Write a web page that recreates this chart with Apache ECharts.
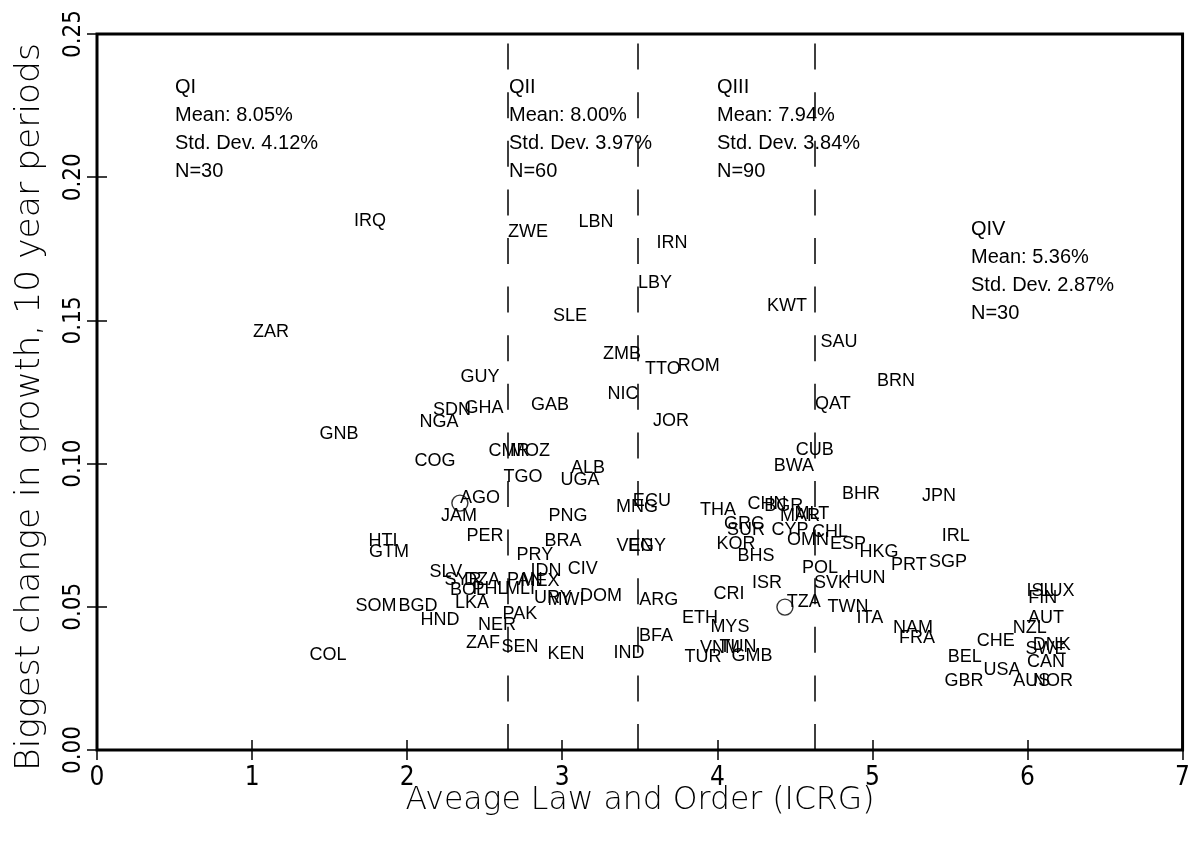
<!DOCTYPE html>
<html><head><meta charset="utf-8">
<script src="https://cdn.jsdelivr.net/npm/echarts@6/dist/echarts.min.js"></script>
<style>html,body{margin:0;padding:0;background:#fff}#c{width:1193px;height:848px}</style>
</head><body><div id="c"></div>
<script>
const codes = ['IRQ','ZAR','GUY','SDN','GHA','NGA','GNB','COG','CMR','MOZ','TGO','ALB','UGA','AGO','JAM','PER','HTI','GTM','SLV','LKA',
 'HND','SOM','BGD','NER','ZAF','PAK','SEN','KEN','COL','IND','BFA','ARG','PRY','BRA','PNG','MNG','ECU','VEN','EGY','NIC',
 'JOR','GAB','ZMB','TTO','ROM','SLE','LBY','IRN','LBN','ZWE','KWT','SAU','BRN','QAT','CUB','BWA','BHR','JPN','THA','CHN',
 'BGR','MAR','MLT','GRC','SUR','KOR','BHS','CYP','OMN','CHL','ESP','HKG','PRT','SGP','IRL','POL','HUN','SVK','ISR','CRI',
 'TZA','TWN','ITA','NAM','FRA','ETH','MYS','VNM','TUN','TUR','GMB','CHE','BEL','GBR','USA','NZL','ISL','LUX','FIN','AUT',
 'DNK','SWE','CAN','AUS','NOR','SYR','DZA','BOL','PHL','PAN','MEX','MLI','IDN','CIV','URY','MWI','DOM'];
const lawOrder = [1.760,1.122,2.469,2.289,2.495,2.205,1.560,2.179,2.656,2.792,2.747,3.166,3.114,2.469,2.334,2.502,1.844,1.883,2.250,2.418,
 2.211,1.799,2.070,2.579,2.489,2.727,2.727,3.024,1.489,3.430,3.604,3.623,2.824,3.005,3.037,3.482,3.578,3.469,3.546,3.391,
 3.701,2.921,3.385,3.649,3.881,3.050,3.598,3.707,3.217,2.779,4.449,4.784,5.152,4.745,4.629,4.494,4.926,5.429,4.004,4.320,
 4.429,4.533,4.610,4.172,4.185,4.120,4.249,4.468,4.584,4.726,4.842,5.042,5.235,5.487,5.538,4.662,4.958,4.739,4.320,4.075,
 4.558,4.842,4.984,5.261,5.287,3.888,4.081,4.017,4.133,3.907,4.223,5.796,5.596,5.590,5.835,6.015,6.080,6.190,6.099,6.119,
 6.157,6.119,6.119,6.028,6.164,2.360,2.482,2.392,2.534,2.759,2.856,2.727,2.895,3.133,2.940,3.024,3.250];
const growthChange = [0.1847,0.1459,0.1302,0.1187,0.1194,0.1145,0.1103,0.1009,0.1044,0.1044,0.0953,0.0985,0.0943,0.0880,0.0817,0.0747,0.0730,0.0691,0.0622,0.0513,
 0.0454,0.0503,0.0503,0.0436,0.0374,0.0475,0.0360,0.0335,0.0332,0.0339,0.0398,0.0524,0.0681,0.0730,0.0817,0.0848,0.0869,0.0712,0.0712,0.1243,
 0.1149,0.1205,0.1383,0.1330,0.1341,0.1515,0.1631,0.1770,0.1844,0.1809,0.1550,0.1425,0.1288,0.1208,0.1047,0.0992,0.0894,0.0887,0.0838,0.0859,
 0.0852,0.0817,0.0824,0.0789,0.0768,0.0719,0.0677,0.0768,0.0733,0.0761,0.0719,0.0691,0.0646,0.0656,0.0747,0.0635,0.0601,0.0583,0.0583,0.0545,
 0.0517,0.0499,0.0461,0.0426,0.0391,0.0461,0.0429,0.0356,0.0360,0.0325,0.0328,0.0381,0.0325,0.0241,0.0279,0.0426,0.0555,0.0555,0.0531,0.0461,
 0.0367,0.0353,0.0307,0.0241,0.0241,0.0594,0.0594,0.0559,0.0562,0.0594,0.0590,0.0562,0.0625,0.0632,0.0531,0.0524,0.0538];
const circleX = [2.340, 4.436];
const circleY = [0.0862, 0.0499];
const quartileCuts = [2.647, 3.49, 4.63];
const statTitles = ['QI','QII','QIII','QIV'];
const statMeans = ['8.05%','8.00%','7.94%','5.36%'];
const statSDs = ['4.12%','3.97%','3.84%','2.87%'];
const statNs = [30, 60, 90, 30];
const xTitle = 'Aveage Law and Order (ICRG)';
const yTitle = 'Biggest change in growth, 10 year periods';

const blockPos = [[175,87],[509,87],[717,87],[971,229]];
const LABEL_FONT = 'Liberation Sans';
const TICK_FONT = "'Liberation Sans Narrow', 'DejaVu Sans Condensed', sans-serif";

const graphics = [];
statTitles.forEach((t, i) => {
  const lines = [t, 'Mean: ' + statMeans[i], 'Std. Dev. ' + statSDs[i], 'N=' + statNs[i]];
  lines.forEach((ln, j) => {
    graphics.push({type:'text', x: blockPos[i][0], y: blockPos[i][1] + j * 28, silent:true,
      style:{text: ln, fill:'#000', fontSize: 20, fontFamily: LABEL_FONT, align:'left', verticalAlign:'middle'}});
  });
});
graphics.push({type:'text', x: 640, y: 801, silent:true,
  style:{text: xTitle, fill:'#000', fontSize: 31.5, fontWeight: 200, fontFamily:'DejaVu Sans', align:'center', verticalAlign:'middle'}});
graphics.push({type:'text', x: 30, y: 407, rotation: Math.PI/2, silent:true,
  style:{text: yTitle, fill:'#000', fontSize: 34.5, fontWeight: 200, fontFamily:'DejaVu Sans', align:'center', verticalAlign:'middle'}});

const tickStyle = {show:true, inside:true, length:10, lineStyle:{color:'#000', width:1.5}};
const chart = echarts.init(document.getElementById('c'), null, {renderer:'canvas'});
chart.setOption({
  animation:false,
  backgroundColor:'#fff',
  grid:{left:97, right:10, top:34, bottom:98, show:true, borderColor:'#000', borderWidth:3, backgroundColor:'rgba(0,0,0,0)'},
  xAxis:[
    {type:'value', min:0, max:7, interval:1, position:'bottom',
     axisLine:{show:false}, axisTick:tickStyle, splitLine:{show:false},
     axisLabel:{show:true, margin:15, color:'#000', fontSize:26, fontWeight:200, fontFamily:TICK_FONT}},
    {type:'value', min:0, max:7, interval:1, position:'top',
     axisLine:{show:false}, axisTick:tickStyle, splitLine:{show:false}, axisLabel:{show:false}}
  ],
  yAxis:[
    {type:'value', min:0, max:0.25, interval:0.05, position:'left',
     axisLine:{show:false}, axisTick:tickStyle, splitLine:{show:false},
     axisLabel:{show:true, rotate:90, margin:11, color:'#000', fontSize:24, fontWeight:200, fontFamily:TICK_FONT,
       formatter: v => v.toFixed(2)}},
    {type:'value', min:0, max:0.25, interval:0.05, position:'right',
     axisLine:{show:false}, axisTick:tickStyle, splitLine:{show:false}, axisLabel:{show:false}}
  ],
  graphic: graphics,
  series:[
    {type:'scatter', name:'countries', symbol:'circle', symbolSize:1,
     itemStyle:{color:'rgba(0,0,0,0)'},
     label:{show:true, position:'inside', formatter:'{b}', color:'#000', opacity:1, textBorderWidth:0,
       fontSize:18, fontFamily:LABEL_FONT},
     emphasis:{disabled:true},
     data: codes.map((c,i) => ({name:c, value:[lawOrder[i], growthChange[i]]})),
     markLine:{silent:true, symbol:['none','none'], label:{show:false},
       lineStyle:{color:'#000', width:1.5, type:[26,22.6]},
       data: quartileCuts.map(v => ({xAxis:v}))}
    },
    {type:'scatter', name:'unlabelled', symbol:'circle', symbolSize:16,
     itemStyle:{color:'rgba(0,0,0,0)', borderColor:'#000', borderWidth:1.4},
     emphasis:{disabled:true},
     data: circleX.map((x,i) => [x, circleY[i]])}
  ]
});
</script></body></html>
